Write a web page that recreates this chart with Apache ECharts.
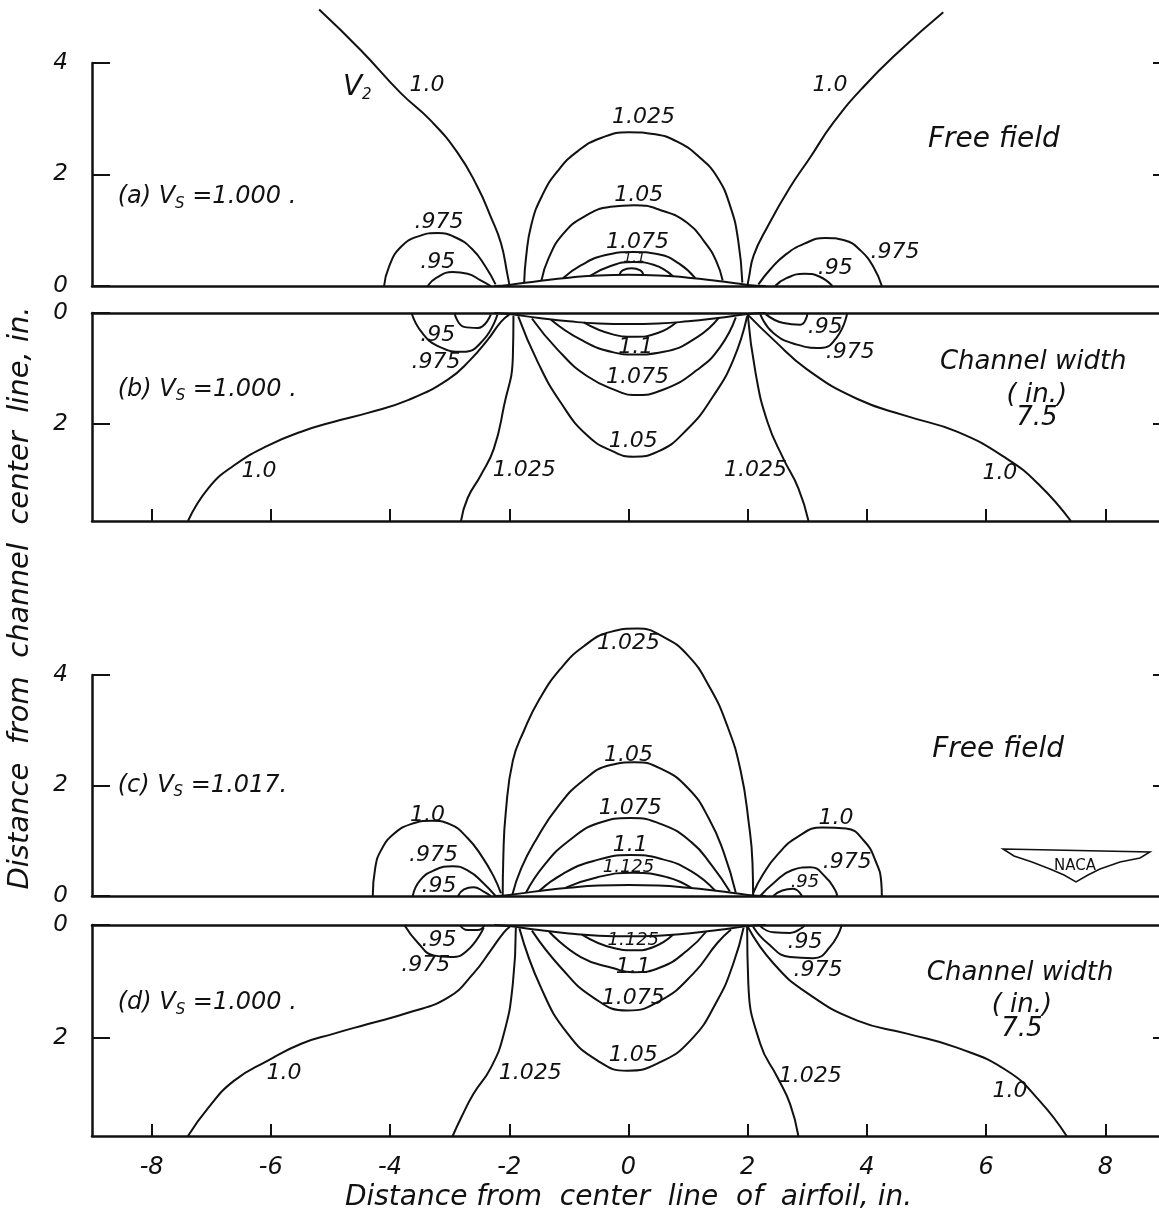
<!DOCTYPE html>
<html><head><meta charset="utf-8">
<script src="https://cdn.jsdelivr.net/npm/echarts@6/dist/echarts.min.js"></script>
<style>html,body{margin:0;padding:0;background:#fff}#c{width:1159px;height:1213px}</style>
</head><body><div id="c"></div>
<script>
// ---------- tick labels ----------
const X_TICKS = [-8,-6,-4,-2,0,2,4,6,8];
const Y_TICKS_FREE = [0,2,4];
const Y_TICKS_CHAN = [0,2];

// ---------- airfoil surface (half-thickness, in.) ----------
const airfoil = [[-2.25,0],[-2,0.02],[-1.5,0.09],[-1,0.15],[-0.5,0.19],[0,0.2],[0.5,0.19],[1,0.15],[1.5,0.09],[2,0.02],[2.3,0]];

// ---------- (a) free field, Vs = 1.000 ----------
const a100L = [[-5.19,4.96],[-4.49,4.23],[-3.82,3.46],[-3.32,2.97],[-2.86,2.38],[-2.53,1.77],[-2.31,1.24],[-2.14,0.77],[-2.03,0.2],[-2.0,0.03]];
const a100R = [[5.28,4.91],[4.56,4.23],[3.94,3.57],[3.43,2.92],[3.05,2.31],[2.71,1.77],[2.33,1.06],[2.10,0.55],[2.02,0.15],[2.0,0.03]];
const a1025 = [[-1.75,0.06],[-1.72,0.5],[-1.63,1.1],[-1.45,1.62],[-1.19,2.06],[-0.85,2.42],[-0.45,2.66],[0.0,2.76],[0.45,2.72],[0.85,2.57],[1.2,2.3],[1.49,1.95],[1.71,1.42],[1.84,0.82],[1.91,0.06]];
const a105 = [[-1.46,0.1],[-1.34,0.5],[-1.1,0.93],[-0.75,1.24],[-0.3,1.42],[0.1,1.45],[0.54,1.36],[0.99,1.13],[1.29,0.77],[1.47,0.45],[1.58,0.1]];
const a1075 = [[-1.1,0.14],[-0.8,0.37],[-0.4,0.55],[0.08,0.61],[0.5,0.57],[0.85,0.4],[1.12,0.14]];
const a110 = [[-0.65,0.18],[-0.3,0.36],[0.08,0.43],[0.42,0.38],[0.75,0.17]];
const a1125 = [[-0.15,0.2],[-0.1,0.28],[0.05,0.32],[0.2,0.28],[0.25,0.2]];
const a0975L = [[-4.10,0],[-4.02,0.34],[-3.82,0.7],[-3.50,0.9],[-3.20,0.95],[-2.90,0.87],[-2.62,0.66],[-2.40,0.35],[-2.23,0.03]];
const a095L = [[-3.37,0],[-3.22,0.15],[-2.95,0.25],[-2.70,0.22],[-2.48,0.1],[-2.31,0]];
const a0975R = [[2.18,0.03],[2.38,0.3],[2.62,0.55],[2.95,0.76],[3.30,0.86],[3.62,0.82],[3.90,0.63],[4.12,0.32],[4.25,0]];
const a095R = [[2.46,0],[2.65,0.14],[2.95,0.22],[3.2,0.17],[3.42,0]];

// ---------- (b) channel 7.5 in., Vs = 1.000 ----------
const b100L = [[-7.39,3.75],[-7.05,3.16],[-6.62,2.75],[-6.05,2.39],[-5.49,2.14],[-4.94,1.96],[-4.37,1.80],[-3.70,1.57],[-3.03,1.20],[-2.65,0.84],[-2.36,0.48],[-2.14,0.16],[-2.0,0.03]];
const b100R = [[2.0,0.03],[2.43,0.48],[3.0,1.02],[3.84,1.55],[4.67,1.86],[5.51,2.14],[6.35,2.63],[6.90,3.11],[7.42,3.75]];
const b1025L = [[-1.93,0.05],[-1.94,0.79],[-2.09,1.68],[-2.26,2.45],[-2.48,2.93],[-2.70,3.34],[-2.81,3.75]];
const b1025R = [[2.0,0.03],[2.13,1.07],[2.33,1.96],[2.60,2.63],[2.85,3.16],[3.02,3.75]];
const b105 = [[-1.85,0.06],[-1.52,0.89],[-1.14,1.61],[-0.69,2.21],[-0.25,2.5],[0.08,2.59],[0.49,2.5],[0.99,2.09],[1.42,1.5],[1.76,0.84],[1.99,0.06]];
const b1075 = [[-1.62,0.1],[-1.19,0.66],[-0.69,1.14],[-0.13,1.43],[0.08,1.48],[0.59,1.38],[1.16,1.02],[1.54,0.61],[1.8,0.08]];
const b110 = [[-1.3,0.12],[-0.80,0.48],[-0.25,0.71],[0.08,0.75],[0.59,0.70],[1.16,0.43],[1.52,0.08]];
const b1125 = [[-0.75,0.17],[-0.25,0.39],[0.08,0.43],[0.49,0.36],[0.8,0.17]];
const b0975L = [[-3.64,0],[-3.46,0.36],[-3.17,0.61],[-2.78,0.70],[-2.43,0.48],[-2.20,0.03]];
const b095L = [[-2.92,0],[-2.76,0.25],[-2.53,0.27],[-2.31,0.03]];
const b0975R = [[2.21,0.02],[2.43,0.36],[2.83,0.57],[3.22,0.63],[3.50,0.43],[3.67,0]];
const b095R = [[2.3,0.02],[2.60,0.18],[2.88,0.21],[2.98,0.1],[3.0,0]];

// ---------- (c) free field, Vs = 1.017 ----------
const c1025 = [[-2.11,0],[-2.1,0.7],[-2.06,1.5],[-1.94,2.45],[-1.75,3.0],[-1.5,3.55],[-1.15,4.1],[-0.75,4.52],[-0.3,4.78],[0.15,4.84],[0.6,4.68],[1.0,4.35],[1.35,3.8],[1.65,3.1],[1.88,2.27],[2.02,1.3],[2.08,0.6],[2.09,0.02]];
const c105 = [[-1.95,0.02],[-1.8,0.5],[-1.55,1.02],[-1.19,1.61],[-0.75,2.1],[-0.3,2.37],[0.1,2.42],[0.55,2.3],[1.0,1.95],[1.35,1.4],[1.6,0.78],[1.8,0.06]];
const c1075 = [[-1.72,0.06],[-1.42,0.55],[-1.0,1.0],[-0.5,1.32],[0.03,1.41],[0.55,1.3],[1.05,0.98],[1.4,0.55],[1.7,0.08]];
const c110 = [[-1.5,0.09],[-1.1,0.4],[-0.6,0.63],[0.03,0.74],[0.55,0.67],[1.05,0.45],[1.45,0.1]];
const c1125 = [[-1.05,0.15],[-0.52,0.34],[0.08,0.42],[0.65,0.34],[1.05,0.15]];
const c100L = [[-4.29,0],[-4.25,0.5],[-4.15,0.83],[-3.94,1.12],[-3.65,1.3],[-3.3,1.36],[-3.0,1.3],[-2.7,1.05],[-2.45,0.7],[-2.26,0.35],[-2.14,0.05]];
const c0975L = [[-3.62,0],[-3.5,0.28],[-3.25,0.47],[-2.95,0.54],[-2.68,0.45],[-2.45,0.25],[-2.23,0]];
const c095L = [[-2.86,0],[-2.76,0.12],[-2.60,0.16],[-2.43,0.08],[-2.31,0]];
const c100R = [[2.09,0.05],[2.25,0.38],[2.5,0.75],[2.85,1.08],[3.25,1.24],[3.65,1.22],[3.95,1.0],[4.15,0.62],[4.24,0.25],[4.25,0]];
const c0975R = [[2.21,0],[2.45,0.25],[2.75,0.47],[3.05,0.52],[3.3,0.35],[3.47,0.1],[3.50,0]];
const c095R = [[2.43,0],[2.58,0.1],[2.76,0.13],[2.91,0]];

// ---------- (d) channel 7.5 in., Vs = 1.000 ----------
const d100L = [[-7.39,3.75],[-7.05,3.25],[-6.62,2.77],[-6.05,2.41],[-5.49,2.11],[-4.94,1.93],[-4.37,1.76],[-3.70,1.56],[-3.03,1.29],[-2.60,0.86],[-2.31,0.45],[-2.09,0.13],[-1.99,0.03]];
const d100R = [[2.0,0.03],[2.43,0.68],[3.0,1.21],[3.84,1.70],[4.67,1.93],[5.51,2.18],[6.35,2.59],[6.90,3.13],[7.35,3.75]];
const d1025L = [[-1.89,0.05],[-1.94,1.04],[-2.09,1.93],[-2.31,2.54],[-2.60,3.0],[-2.81,3.43],[-2.95,3.75]];
const d1025R = [[1.99,0.03],[2.01,1.04],[2.21,2.11],[2.50,2.71],[2.71,3.18],[2.85,3.75]];
const d105 = [[-1.83,0.06],[-1.47,1.11],[-1.02,1.93],[-0.52,2.41],[-0.02,2.59],[0.49,2.46],[1.04,2.05],[1.49,1.34],[1.76,0.68],[1.93,0.05]];
const d1075 = [[-1.62,0.1],[-1.14,0.75],[-0.59,1.29],[-0.02,1.52],[0.54,1.34],[1.09,0.86],[1.49,0.32],[1.72,0.08]];
const d110 = [[-1.33,0.12],[-0.80,0.57],[-0.25,0.77],[0.08,0.84],[0.54,0.75],[0.99,0.45],[1.3,0.12]];
const d1125 = [[-0.78,0.17],[-0.25,0.41],[0.08,0.45],[0.42,0.39],[0.75,0.17]];
const d0975L = [[-3.76,0],[-3.53,0.32],[-3.27,0.54],[-2.98,0.57],[-2.70,0.45],[-2.43,0.05]];
const d095L = [[-2.83,0],[-2.70,0.09],[-2.53,0.09],[-2.41,0]];
const d0975R = [[2.09,0.03],[2.33,0.32],[2.71,0.57],[3.10,0.59],[3.38,0.39],[3.58,0]];
const d095R = [[2.21,0.02],[2.43,0.13],[2.71,0.14],[2.91,0.05],[2.96,0]];

// ---------- contour labels [x, y, text, fontSize?] ----------
const aLabels = [[-3.38,3.6,'1.0'],[3.38,3.6,'1.0'],[0.25,3.03,'1.025'],[0.17,1.63,'1.05'],[0.15,0.79,'1.075'],[0.1,0.5,'1.1',14],[-3.18,1.15,'.975'],[-3.2,0.43,'.95'],[4.47,0.61,'.975'],[3.47,0.32,'.95']];
const bLabels = [[-3.2,0.4,'.95'],[-3.23,0.89,'.975'],[3.3,0.25,'.95'],[3.72,0.7,'.975'],[0.12,0.61,'1.1'],[0.15,1.16,'1.075'],[0.08,2.32,'1.05'],[-1.75,2.84,'1.025'],[2.13,2.84,'1.025'],[-6.2,2.86,'1.0'],[6.23,2.89,'1.0']];
const cLabels = [[0.0,4.57,'1.025'],[0.0,2.55,'1.05'],[0.03,1.59,'1.075'],[0.03,0.92,'1.1'],[0.0,0.51,'1.125',18],[-3.37,1.46,'1.0'],[-3.27,0.74,'.975'],[-3.18,0.18,'.95'],[3.48,1.41,'1.0'],[3.67,0.61,'.975'],[2.96,0.25,'.95',18]];
const dLabels = [[-3.18,0.27,'.95'],[-3.4,0.71,'.975'],[2.96,0.3,'.95'],[3.18,0.8,'.975'],[0.08,0.27,'1.125',18],[0.08,0.75,'1.1'],[0.08,1.3,'1.075'],[0.08,2.32,'1.05'],[-1.65,2.64,'1.025'],[3.05,2.68,'1.025'],[-5.78,2.64,'1.0'],[6.4,2.95,'1.0']];

// ---------- panel texts [x, y, text] ----------
const aNotes = [[6.13,2.62,'Free field'],[-4.55,3.55,'{w|V}{s|2}']];
const bNotes = [[6.79,0.88,'Channel width'],[6.85,1.48,'( in.)'],[6.85,1.89,'7.5']];
const cNotes = [[6.2,2.64,'Free field']];
const dNotes = [[6.57,0.85,'Channel width'],[6.6,1.42,'( in.)'],[6.6,1.86,'7.5']];
const titles = [
  [0,-8.57,1.6,'(a) {v|V}{s|S} =1.000 .'],
  [1,-8.57,1.38,'(b) {v|V}{s|S} =1.000 .'],
  [2,-8.57,2.0,'(c) {v|V}{s|S} =1.017.'],
  [3,-8.57,1.39,'(d) {v|V}{s|S} =1.000 .']
];

const INK = '#111';
const FONT = 'DejaVu Sans';
const XI = [0,1,3,4]; // main x axis of each panel

function curve(p, data){
  return {type:'line', xAxisIndex:XI[p], yAxisIndex:p, data:data, symbol:'none', showSymbol:false,
    smooth:0.5, clip:false, silent:true, animation:false, z:3,
    lineStyle:{color:INK, width:2}};
}
const richSub = {v:{fontSize:24, fontStyle:'italic', fontFamily:FONT, color:INK},
                 w:{fontSize:28, fontStyle:'italic', fontFamily:FONT, color:INK},
                 s:{fontSize:15, fontStyle:'italic', fontFamily:FONT, color:INK, padding:[14,0,0,0]}};
function labels(p, list, size){
  return {type:'scatter', xAxisIndex:XI[p], yAxisIndex:p, symbolSize:0, clip:false, silent:true, animation:false, z:5,
    itemStyle:{opacity:1},
    data:list.map(l => { const it = {value:[l[0],l[1]], name:l[2]}; if (l[3]) it.label = {fontSize:l[3]}; return it; }),
    label:{show:true, position:'inside', formatter:'{b}', fontSize:size||22, fontStyle:'italic', fontFamily:FONT, color:INK, rich:richSub}};
}

const panels = [
  [a100L,a100R,a1025,a105,a1075,a110,a1125,a0975L,a095L,a0975R,a095R,airfoil],
  [b100L,b100R,b1025L,b1025R,b105,b1075,b110,b1125,b0975L,b095L,b0975R,b095R,airfoil],
  [c1025,c105,c1075,c110,c1125,c100L,c0975L,c095L,c100R,c0975R,c095R,airfoil],
  [d100L,d100R,d1025L,d1025R,d105,d1075,d110,d1125,d0975L,d095L,d0975R,d095R,airfoil]
];
const series = [];
panels.forEach((arr,p) => arr.forEach(d => series.push(curve(p,d))));
series.push(labels(0,aLabels), labels(1,bLabels), labels(2,cLabels), labels(3,dLabels));
series.push(labels(0,aNotes,28), labels(1,bNotes,26), labels(2,cNotes,28), labels(3,dNotes,26));
titles.forEach(t => {
  series.push({type:'scatter', xAxisIndex:XI[t[0]], yAxisIndex:t[0], symbolSize:0, clip:false, silent:true, animation:false, z:5,
    itemStyle:{opacity:1},
    data:[{value:[t[1],t[2]], name:t[3]}],
    label:{show:true, position:'right', distance:0, formatter:'{b}', fontSize:24, fontStyle:'italic', fontFamily:FONT, color:INK, rich:richSub}});
});

const LEFT = 92, WIDTH = 1073;
const grids = [
  {left:LEFT, width:WIDTH, top:63,  height:223, outerBoundsMode:'none', containLabel:false},
  {left:LEFT, width:WIDTH, top:313, height:208, outerBoundsMode:'none', containLabel:false},
  {left:LEFT, width:WIDTH, top:675, height:221, outerBoundsMode:'none', containLabel:false},
  {left:LEFT, width:WIDTH, top:925, height:211, outerBoundsMode:'none', containLabel:false}
];
const axLine = {show:true, onZero:false, lineStyle:{color:INK, width:2.5}};
function xAx(g, pos, ticks, labelsOn, name){
  return {type:'value', gridIndex:g, position:pos, min:-9, max:9, interval:1,
    axisLine:axLine, splitLine:{show:false},
    axisTick:{show:!!ticks, inside:true, length:12, lineStyle:{color:INK,width:2}, customValues:X_TICKS},
    axisLabel:{show:!!labelsOn, customValues:X_TICKS, margin:20, fontSize:24, fontStyle:'italic', fontFamily:FONT, color:INK},
    name:name||'', nameLocation:'middle', nameGap:48,
    nameTextStyle:{fontSize:28, fontStyle:'italic', fontFamily:FONT, color:INK}};
}
const xAxes = [
  xAx(0,'bottom',false,false),
  xAx(1,'bottom',true,false),
  xAx(1,'top',false,false),
  xAx(2,'bottom',false,false),
  xAx(3,'bottom',true,true,'Distance from  center  line  of  airfoil, in.'),
  xAx(3,'top',false,false)
];
function yAx(g, inverse, max, ticks){
  return {type:'value', gridIndex:g, position:'left', min:0, max:max, inverse:inverse,
    axisLine:axLine, splitLine:{show:false},
    axisTick:{show:true, inside:true, length:18, lineStyle:{color:INK,width:2}, customValues:ticks},
    axisLabel:{show:true, customValues:ticks, margin:24, fontSize:23, fontStyle:'italic', fontFamily:FONT, color:INK}};
}
function yAxR(g, inverse, max, ticks){
  return {type:'value', gridIndex:g, position:'right', min:0, max:max, inverse:inverse,
    axisLine:{show:false, onZero:false}, splitLine:{show:false},
    axisTick:{show:true, inside:true, length:12, lineStyle:{color:INK,width:2}, customValues:ticks},
    axisLabel:{show:false}};
}
const yAxes = [
  yAx(0,false,4,Y_TICKS_FREE), yAx(1,true,3.75,Y_TICKS_CHAN), yAx(2,false,4,Y_TICKS_FREE), yAx(3,true,3.75,Y_TICKS_CHAN),
  yAxR(0,false,4,[2,4]), yAxR(1,true,3.75,[2]), yAxR(2,false,4,[2,4]), yAxR(3,true,3.75,[2])
];

const chart = echarts.init(document.getElementById('c'), null, {renderer:'canvas'});
chart.setOption({
  backgroundColor:'#fff',
  animation:false,
  grid:grids, xAxis:xAxes, yAxis:yAxes, series:series,
  graphic:[
    {type:'text', x:20, y:598, rotation:Math.PI/2,
      style:{text:'Distance  from  channel  center  line, in.', fontSize:29, fontStyle:'italic', fontFamily:FONT, fill:INK, align:'center', verticalAlign:'middle'}},
    {type:'polygon', shape:{points:[[1003,849],[1150,852],[1140,858],[1120,862],[1100,869],[1088,875],[1076,882],[1064,875],[1050,869],[1032,862],[1014,856]]},
      style:{fill:'#fff', stroke:INK, lineWidth:1.5}},
    {type:'text', x:1075, y:866, style:{text:'NACA', fontSize:15, fontFamily:FONT, fill:INK, align:'center', verticalAlign:'middle'}}
  ]
});
</script>
</body></html>
